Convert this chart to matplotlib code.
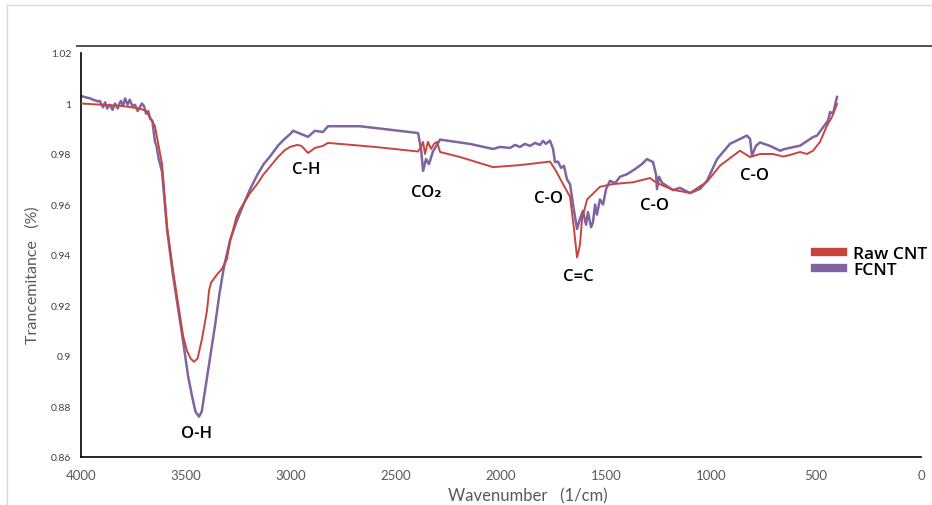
import numpy as np
import matplotlib.pyplot as plt
from matplotlib.lines import Line2D

# FTIR spectra (wavenumber 1/cm, transmittance)
raw_wn = [4000, 3900, 3800, 3720, 3690, 3660, 3648, 3614, 3590, 3562, 3540, 3514, 3495,
          3478, 3462, 3445, 3424, 3400, 3390, 3381, 3355, 3329, 3305, 3290, 3260, 3243,
          3195, 3162, 3130, 3100, 3060, 3030, 3005, 2970, 2950, 2919, 2886, 2848, 2824,
          2600, 2395, 2381, 2371, 2362, 2348, 2333, 2319, 2305, 2290, 2195, 2038, 1910,
          1767, 1743, 1710, 1671, 1652, 1638, 1624, 1614, 1590, 1529, 1467, 1371, 1290,
          1267, 1243, 1181, 1100, 1019, 957, 862, 814, 767, 705, 657, 624, 576, 543, 514,
          481, 448, 424, 400]
raw_t = [1.000, 0.9995, 0.999, 0.998, 0.997, 0.993, 0.991, 0.976, 0.951, 0.934, 0.922,
         0.908, 0.902, 0.899, 0.8977, 0.899, 0.9067, 0.918, 0.926, 0.929, 0.932, 0.9345,
         0.9384, 0.9455, 0.955, 0.958, 0.9645, 0.968, 0.972, 0.975, 0.979, 0.9815, 0.9828,
         0.9836, 0.9832, 0.9804, 0.9824, 0.9832, 0.9844, 0.9828, 0.981, 0.9828, 0.9848,
         0.980, 0.9848, 0.982, 0.984, 0.9848, 0.9808, 0.9788, 0.9748, 0.9756, 0.977,
         0.974, 0.9689, 0.963, 0.950, 0.939, 0.944, 0.9543, 0.962, 0.967, 0.9681, 0.9688,
         0.9705, 0.969, 0.968, 0.9658, 0.9646, 0.969, 0.9754, 0.9813, 0.9788, 0.980,
         0.980, 0.979, 0.9796, 0.9808, 0.980, 0.9813, 0.9848, 0.9912, 0.9947, 0.9998]

fcnt_wn = [4000, 3980, 3965, 3955, 3940, 3930, 3918, 3910, 3902, 3895, 3885, 3875, 3868,
           3862, 3850, 3838, 3825, 3818, 3810, 3800, 3790, 3778, 3768, 3755, 3743, 3730,
           3720, 3710, 3700, 3690, 3680, 3671, 3660, 3648, 3640, 3630, 3614, 3590, 3562,
           3540, 3514, 3490, 3471, 3455, 3438, 3425, 3410, 3386, 3362, 3340, 3320, 3290,
           3260, 3229, 3195, 3162, 3130, 3100, 3060, 3030, 3005, 2990, 2919, 2886, 2848,
           2824, 2671, 2395, 2381, 2371, 2357, 2343, 2324, 2290, 2148, 2038, 2005, 1957,
           1933, 1910, 1886, 1862, 1838, 1814, 1800, 1786, 1767, 1752, 1743, 1729, 1714,
           1700, 1686, 1671, 1657, 1638, 1624, 1610, 1595, 1586, 1571, 1562, 1552, 1543,
           1529, 1514, 1500, 1481, 1457, 1433, 1400, 1362, 1329, 1305, 1276, 1262, 1257,
           1248, 1233, 1181, 1148, 1100, 1052, 1019, 971, 910, 829, 814, 805, 786, 767,
           719, 671, 648, 576, 514, 495, 471, 443, 433, 419, 400]
fcnt_t = [1.003, 1.0025, 1.0022, 1.002, 1.0014, 1.0012, 1.0008, 1.001, 0.9995, 0.9985,
          1.0005, 0.998, 0.9993, 0.9995, 0.9975, 1.000, 0.998, 0.9998, 1.001, 0.999,
          1.002, 0.9995, 1.0015, 0.999, 0.9995, 0.997, 0.9985, 1.000, 0.999, 0.996,
          0.997, 0.994, 0.993, 0.985, 0.983, 0.978, 0.973, 0.950, 0.932, 0.920, 0.906,
          0.892, 0.884, 0.878, 0.876, 0.878, 0.886, 0.899, 0.912, 0.925, 0.935, 0.946,
          0.953, 0.9595, 0.966, 0.9715, 0.976, 0.979, 0.9835, 0.986, 0.9878, 0.9892,
          0.9868, 0.9892, 0.9887, 0.991, 0.991, 0.9883, 0.982, 0.9733, 0.978, 0.976, 0.981,
          0.9857, 0.984, 0.982, 0.9828, 0.9824, 0.9836, 0.9828, 0.984, 0.9832, 0.9844,
          0.9836, 0.9852, 0.984, 0.9853, 0.982, 0.9768, 0.977, 0.9745, 0.9753, 0.970,
          0.968, 0.960, 0.9503, 0.9543, 0.9575, 0.952, 0.957, 0.951, 0.953, 0.960, 0.956,
          0.962, 0.960, 0.966, 0.9694, 0.9685, 0.971, 0.972, 0.974, 0.976, 0.978, 0.9768,
          0.972, 0.9661, 0.971, 0.9686, 0.9657, 0.9666, 0.9645, 0.9662, 0.9694, 0.978,
          0.984, 0.9873, 0.986, 0.9793, 0.9832, 0.9846, 0.9832, 0.9813, 0.982, 0.9833,
          0.9867, 0.9873, 0.990, 0.9932, 0.9966, 0.996, 1.0026]

peak_labels = ['O-H', 'C-H', 'CO\u2082', 'C-O', 'C=C', 'C-O', 'C-O']
peak_wn = [3448, 2929, 2357, 1776, 1630, 1270, 795]
peak_t = [0.8695, 0.974, 0.965, 0.9626, 0.9318, 0.9598, 0.9716]

x_ticks = [4000, 3500, 3000, 2500, 2000, 1500, 1000, 500, 0]
y_ticks = [0.86, 0.88, 0.9, 0.92, 0.94, 0.96, 0.98, 1.0, 1.02]
y_tick_labels = ['0.86', '0.88', '0.9', '0.92', '0.94', '0.96', '0.98', '1', '1.02']

W, H = 932, 506
fig = plt.figure(figsize=(W / 100, H / 100), dpi=100)
ax = fig.add_axes([81 / W, 1 - 458 / H, 840 / W, 404 / H])

ax.plot(raw_wn, raw_t, color='#C8453F', lw=1.4, label='Raw CNT', zorder=3)
ax.plot(fcnt_wn, fcnt_t, color='#8064A2', lw=1.8, label='FCNT', zorder=2)

ax.set_xlim(4000, 0)
ax.set_ylim(0.86, 1.02)
ax.set_xticks(x_ticks)
ax.set_yticks(y_ticks)
ax.set_yticklabels(y_tick_labels)
ax.tick_params(axis='both', length=0)
ax.tick_params(axis='y', labelsize=7.5, labelcolor='#404040', pad=7)
ax.tick_params(axis='x', labelsize=9.5, labelcolor='#595959', pad=9)
for lab in ax.get_xticklabels() + ax.get_yticklabels():
    lab.set_family('Lato')
for s in ['top', 'right']:
    ax.spines[s].set_visible(False)
for s in ['left', 'bottom']:
    ax.spines[s].set_color('black')
    ax.spines[s].set_linewidth(1.2)

for lab, x, y in zip(peak_labels, peak_wn, peak_t):
    ax.text(x, y, lab, ha='center', va='center', fontsize=12,
            family=['Open Sans', 'DejaVu Sans'], weight='semibold', color='black')

ax.legend(loc='upper left', bbox_to_anchor=(808 / W, 1 - 240 / H),
          bbox_transform=fig.transFigure, frameon=False, handlelength=1.6,
          handletextpad=0.6, labelspacing=0.0, borderaxespad=0,
          prop={'family': 'Open Sans', 'weight': 'semibold', 'size': 12.5})
for h in ax.get_legend().get_lines():
    h.set_linewidth(6)

fig.text(528 / W, 1 - 496 / H, 'Wavenumber   (1/cm)', ha='center', va='center',
         fontsize=12, family='Lato', color='#595959')
fig.text(33 / W, 1 - 275 / H, 'Trancemitance   (%)', ha='center', va='center',
         rotation=90, fontsize=11.5, family='Lato', color='#595959')

# frame lines like the original sheet
fig.add_artist(Line2D([77 / W, 1], [1 - 47 / H, 1 - 47 / H], color='#444444', lw=1.3))
fig.add_artist(Line2D([7 / W, 1], [1 - 6 / H, 1 - 6 / H], color='#d9d9d9', lw=1))
fig.add_artist(Line2D([7 / W, 7 / W], [0, 1 - 6 / H], color='#d9d9d9', lw=1))

fig.savefig('out.png', dpi=100)
